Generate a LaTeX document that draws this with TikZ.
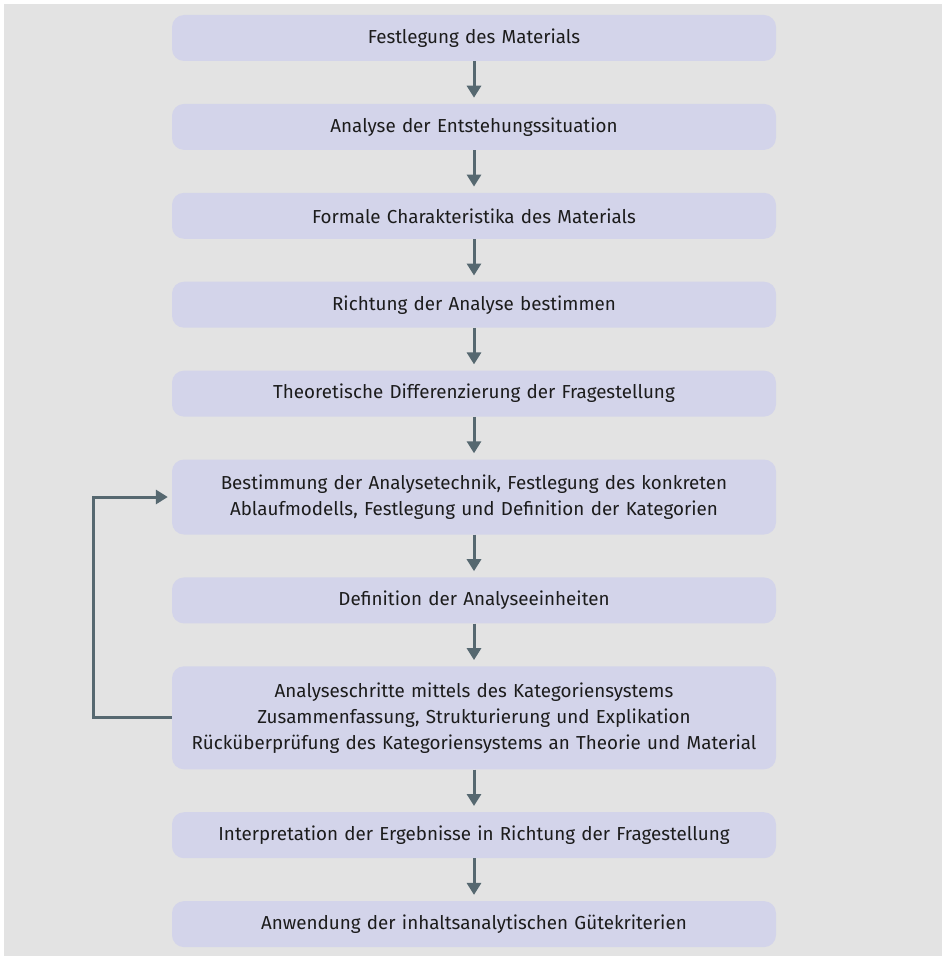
\documentclass[tikz,border=0pt]{standalone}
\usepackage{fontspec}
\setmainfont{Fira Sans}
\usetikzlibrary{positioning, arrows.meta}

\definecolor{bggray}{HTML}{E3E3E3}
\definecolor{boxfill}{HTML}{D3D4EA}
\definecolor{arrowgray}{HTML}{566870}
\definecolor{textdark}{HTML}{1C1C1C}

\tikzset{
  stepbox/.style={fill=boxfill, rounded corners=12pt, text width=590pt,
    minimum width=604pt, minimum height=46pt, inner ysep=6pt,
    align=center, text=textdark,
    font=\fontsize{18.8}{26}\selectfont},
  flow/.style={arrowgray, line width=3pt,
    -{Triangle[length=12pt,width=14pt]}}
}

\begin{document}
\begin{tikzpicture}[x=1pt, y=-1pt, node distance=42.5pt]
\useasboundingbox (0,0) rectangle (944,960);
\fill[bggray] (4,4) rectangle (942,956);

\node[stepbox] (M1) at (474,38) {Festlegung des Materials};
\node[stepbox] (M2) [below=of M1] {Analyse der Entstehungssituation};
\node[stepbox] (M3) [below=of M2] {Formale Charakteristika des Materials};
\node[stepbox] (M4) [below=of M3] {Richtung der Analyse bestimmen};
\node[stepbox] (M5) [below=of M4] {Theoretische Differenzierung der Fragestellung};
\node[stepbox, minimum height=75pt] (M6) [below=of M5] {Bestimmung der Analysetechnik, Festlegung des konkreten\\
  Ablaufmodells, Festlegung und Definition der Kategorien};
\node[stepbox] (M7) [below=of M6] {Definition der Analyseeinheiten};
\node[stepbox, minimum height=103pt] (M8) [below=of M7] {Analyseschritte mittels des Kategoriensystems\\
  Zusammenfassung, Strukturierung und Explikation\\
  Rücküberprüfung des Kategoriensystems an Theorie und Material};
\node[stepbox] (M9) [below=of M8] {Interpretation der Ergebnisse in Richtung der Fragestellung};
\node[stepbox] (M10) [below=of M9] {Anwendung der inhaltsanalytischen Gütekriterien};

% vertical steps
\foreach \a/\b in {M1/M2, M2/M3, M3/M4, M4/M5, M5/M6, M6/M7, M7/M8, M8/M9, M9/M10}
  \draw[flow, shorten >=6pt] (\a.south) -- (\b.north);

% loop back
\coordinate (LB) at (93,0);
\draw[flow, shorten >=4pt] (M8.west) -| (LB |- M8.west) |- (M6.west);
\end{tikzpicture}
\end{document}
